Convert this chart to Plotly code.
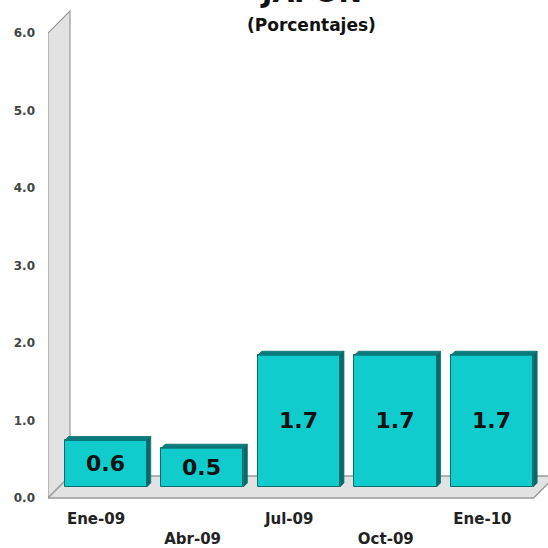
import plotly.graph_objects as go

# ---- data ----
categories = ["Ene-09", "Abr-09", "Jul-09", "Oct-09", "Ene-10"]
values = [0.6, 0.5, 1.7, 1.7, 1.7]
y_tick_vals = [0, 1, 2, 3, 4, 5, 6]
y_tick_text = ["0.0", "1.0", "2.0", "3.0", "4.0", "5.0", "6.0"]
title_text = "JAPÓN"
subtitle_text = "(Porcentajes)"

# ---- style / layout constants ----
W = H = 548
ML, MR, MT, MB = 48, 0, 10, 48
X_RANGE = [-0.597, 4.579]
Y_LABEL_RANGE = [-0.026, 6.297]   # axis carrying the tick labels, wall, floor
Y_BAR_RANGE = [-0.168, 6.155]     # axis for bars (sit mid-depth on floor)
BAR_W = 0.85
LABEL_SHIFT = -0.10
FRONT = "#10CCCC"
TOP = "#0B7B7B"
SIDE = "#066A6A"
EDGE = "#0A6E6E"
FONT = "DejaVu Sans"

# depth vectors (data units)
px_per_x = (W - ML - MR) / (X_RANGE[1] - X_RANGE[0])
px_per_y = (H - MT - MB) / (Y_LABEL_RANGE[1] - Y_LABEL_RANGE[0])
WALL_DX = 22 / px_per_x
WALL_DY = 22 / px_per_y
BAR_DX = 4 / px_per_x
BAR_DY = 4 / px_per_y

idx = list(range(len(categories)))

fig = go.Figure()
fig.add_trace(go.Bar(
    x=idx, y=values, width=BAR_W, yaxis="y2",
    marker=dict(color=FRONT, line=dict(color=EDGE, width=1)),
    text=[f"{v:.1f}" for v in values], textposition="inside",
    insidetextanchor="middle", textangle=0,
    textfont=dict(family=FONT, size=22, color="#111111", weight="bold"),
    hoverinfo="skip", showlegend=False,
))

shapes = []
# wall (left)
x0 = X_RANGE[0]
ytop = y_tick_vals[-1]
shapes.append(dict(
    type="path", xref="x", yref="y", layer="below",
    path=(f"M {x0},0 L {x0},{ytop} L {x0 + WALL_DX},{ytop + WALL_DY} "
          f"L {x0 + WALL_DX},{WALL_DY} Z"),
    fillcolor="#E2E2E2", line=dict(color="#9A9A9A", width=1.2),
))
# floor
xr = len(categories) - 1 + 0.43
shapes.append(dict(
    type="path", xref="x", yref="y", layer="below",
    path=(f"M {x0},0 L {xr},0 L {xr + WALL_DX},{WALL_DY} "
          f"L {x0 + WALL_DX},{WALL_DY} Z"),
    fillcolor="#E2E2E2", line=dict(color="#9A9A9A", width=1.4),
))
# 3D faces of bars
for i, v in zip(idx, values):
    bx0 = i - BAR_W / 2
    bx1 = i + BAR_W / 2
    shapes.append(dict(
        type="path", xref="x", yref="y2", layer="above",
        path=(f"M {bx0},{v} L {bx1},{v} L {bx1 + BAR_DX},{v + BAR_DY} "
              f"L {bx0 + BAR_DX},{v + BAR_DY} Z"),
        fillcolor=TOP, line=dict(color=EDGE, width=0.8),
    ))
    shapes.append(dict(
        type="path", xref="x", yref="y2", layer="above",
        path=(f"M {bx1},0 L {bx1},{v} L {bx1 + BAR_DX},{v + BAR_DY} "
              f"L {bx1 + BAR_DX},{BAR_DY} Z"),
        fillcolor=SIDE, line=dict(color=EDGE, width=0.8),
    ))

tick_text_x = [c if i % 2 == 0 else "<br>" + c for i, c in enumerate(categories)]

fig.update_layout(
    width=W, height=H,
    margin=dict(l=ML, r=MR, t=MT, b=MB),
    paper_bgcolor="white", plot_bgcolor="white",
    showlegend=False, bargap=0,
    shapes=shapes,
    xaxis=dict(
        range=X_RANGE, showgrid=False, zeroline=False, showline=False,
        tickmode="array", tickvals=[i + LABEL_SHIFT for i in idx],
        ticktext=tick_text_x, ticks="", ticklabelstandoff=8,
        tickfont=dict(family=FONT, size=15, color="#222222", weight="bold"),
        fixedrange=True,
    ),
    yaxis=dict(
        range=Y_LABEL_RANGE, showgrid=False, zeroline=False, showline=False,
        tickmode="array", tickvals=y_tick_vals, ticktext=y_tick_text,
        ticks="", ticklabelstandoff=12,
        tickfont=dict(family=FONT, size=12, color="#444444", weight="bold"),
        fixedrange=True,
    ),
    yaxis2=dict(
        range=Y_BAR_RANGE, overlaying="y", visible=False, fixedrange=True,
    ),
    annotations=[
        dict(text=title_text, xref="paper", yref="paper", x=(311 - ML) / (W - ML - MR),
             y=1.0, yanchor="bottom", xanchor="center", showarrow=False, yshift=-1,
             font=dict(family=FONT, size=28, color="#111111", weight="bold")),
        dict(text=subtitle_text, xref="paper", yref="paper", x=(311 - ML) / (W - ML - MR),
             y=1.0, yanchor="middle", xanchor="center", showarrow=False,
             yshift=-(25 - MT),
             font=dict(family=FONT, size=17, color="#111111", weight="bold")),
    ],
)

fig.write_html(
    "out.html",
    config={"displayModeBar": False},
    post_script="document.body.style.margin='0';document.body.style.overflow='hidden';",
)
